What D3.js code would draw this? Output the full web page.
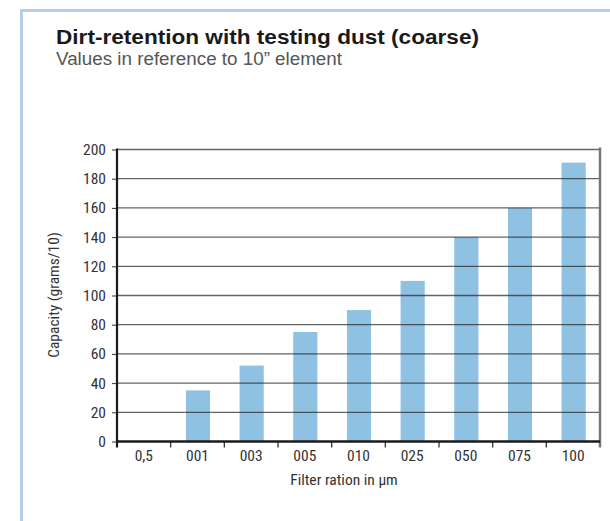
<!DOCTYPE html>
<html><head><meta charset="utf-8">
<script src="https://cdn.jsdelivr.net/npm/d3@7"></script>
<style>
body{margin:0;background:#fff;}
svg{display:block;}
</style></head>
<body><svg id="c" width="610" height="521"></svg>
<script>
const categories = ["0,5","001","003","005","010","025","050","075","100"];
const capacity = [null,35,52,75,90,110,140,160,191];
const yTicks = [0,20,40,60,80,100,120,140,160,180,200];
const titleText = "Dirt-retention with testing dust (coarse)";
const subtitleText = "Values in reference to 10\u201D element";
const xTitle = "Filter ration in \u00B5m";
const yTitle = "Capacity (grams/10)";

const svg = d3.select("#c");
const condensed = "'Liberation Sans Narrow','Arial Narrow','Roboto Condensed',sans-serif";

// frame
svg.append("path").attr("d","M21.5,521 L21.5,10.5 L610,10.5")
  .attr("fill","none").attr("stroke","#b4cdee").attr("stroke-width",3);

svg.append("text").attr("x",56).attr("y",43.5).text(titleText)
  .attr("font-family","'Liberation Sans', Arial, sans-serif").attr("font-weight","bold")
  .attr("font-size",21).attr("fill","#1a1a1a")
  .attr("textLength",423).attr("lengthAdjust","spacingAndGlyphs");
svg.append("text").attr("x",56).attr("y",64.5).text(subtitleText)
  .attr("font-family","'Liberation Sans', Arial, sans-serif")
  .attr("font-size",17.5).attr("fill","#555")
  .attr("textLength",286).attr("lengthAdjust","spacingAndGlyphs");

const pLeft=117, pRight=600, pTop=149.5, pBottom=441.5;
const x = d3.scaleBand().domain(categories).range([pLeft,pRight]).paddingInner(0).paddingOuter(0);
const y = d3.scaleLinear().domain([0,200]).range([pBottom,pTop]);

const g = svg.append("g");

// bars
const barW = x.bandwidth()*0.45;
g.selectAll("rect.bar").data(categories.map((c,i)=>({c,v:capacity[i]})).filter(d=>d.v!=null))
  .enter().append("rect").attr("class","bar")
  .attr("x",d=>x(d.c)+x.bandwidth()/2-barW/2+0.5)
  .attr("width",barW)
  .attr("y",d=>y(d.v))
  .attr("height",d=>pBottom-y(d.v))
  .attr("fill","#8fc1e2");

// y axis ticks + labels
const yAxis = d3.axisLeft(y).tickValues(yTicks).tickSize(5).tickPadding(6);
const ya = g.append("g").attr("transform",`translate(${pLeft},0)`).call(yAxis);
ya.select(".domain").remove();
ya.selectAll(".tick line").attr("stroke","#333").attr("stroke-width",1);
ya.selectAll(".tick text").attr("font-family",condensed).attr("font-size",15.5).attr("fill","#333");

// gridlines
g.selectAll("line.grid").data(yTicks.filter(t=>t>0)).enter().append("line").attr("class","grid")
  .attr("x1",pLeft).attr("x2",pRight).attr("y1",d=>y(d)).attr("y2",d=>y(d))
  .attr("stroke","#222").attr("stroke-opacity",0.7).attr("stroke-width",1.3);

// x axis
const xa = g.append("g").attr("transform",`translate(0,${pBottom})`)
  .call(d3.axisBottom(x).tickSize(0).tickPadding(8));
xa.select(".domain").remove();
xa.selectAll(".tick text").attr("font-family",condensed).attr("font-size",15.5).attr("fill","#333");
// separator ticks at band edges
const edges = categories.map(c=>x(c)).concat([pRight]);
g.selectAll("line.sep").data(edges.slice(1,-1)).enter().append("line").attr("class","sep")
  .attr("x1",d=>d).attr("x2",d=>d).attr("y1",pBottom).attr("y2",pBottom+6)
  .attr("stroke","#333").attr("stroke-width",1.3);

// right border
g.append("line").attr("x1",pRight).attr("x2",pRight).attr("y1",pTop-2).attr("y2",pBottom+6)
  .attr("stroke","#777").attr("stroke-width",2.5);
// baseline
g.append("line").attr("x1",pLeft).attr("x2",pRight).attr("y1",pBottom).attr("y2",pBottom)
  .attr("stroke","#1a1a1a").attr("stroke-width",2.5);
// y axis line
g.append("line").attr("x1",pLeft).attr("x2",pLeft).attr("y1",pTop-1).attr("y2",pBottom+6)
  .attr("stroke","#1a1a1a").attr("stroke-width",2.2);

svg.append("text").attr("x",344).attr("y",485).attr("text-anchor","middle").text(xTitle)
  .attr("font-family",condensed).attr("font-size",15.5).attr("fill","#333");
svg.append("text").attr("transform",`translate(59,295) rotate(-90)`).attr("text-anchor","middle").text(yTitle)
  .attr("font-family",condensed).attr("font-size",15.5).attr("fill","#333");
</script></body></html>
